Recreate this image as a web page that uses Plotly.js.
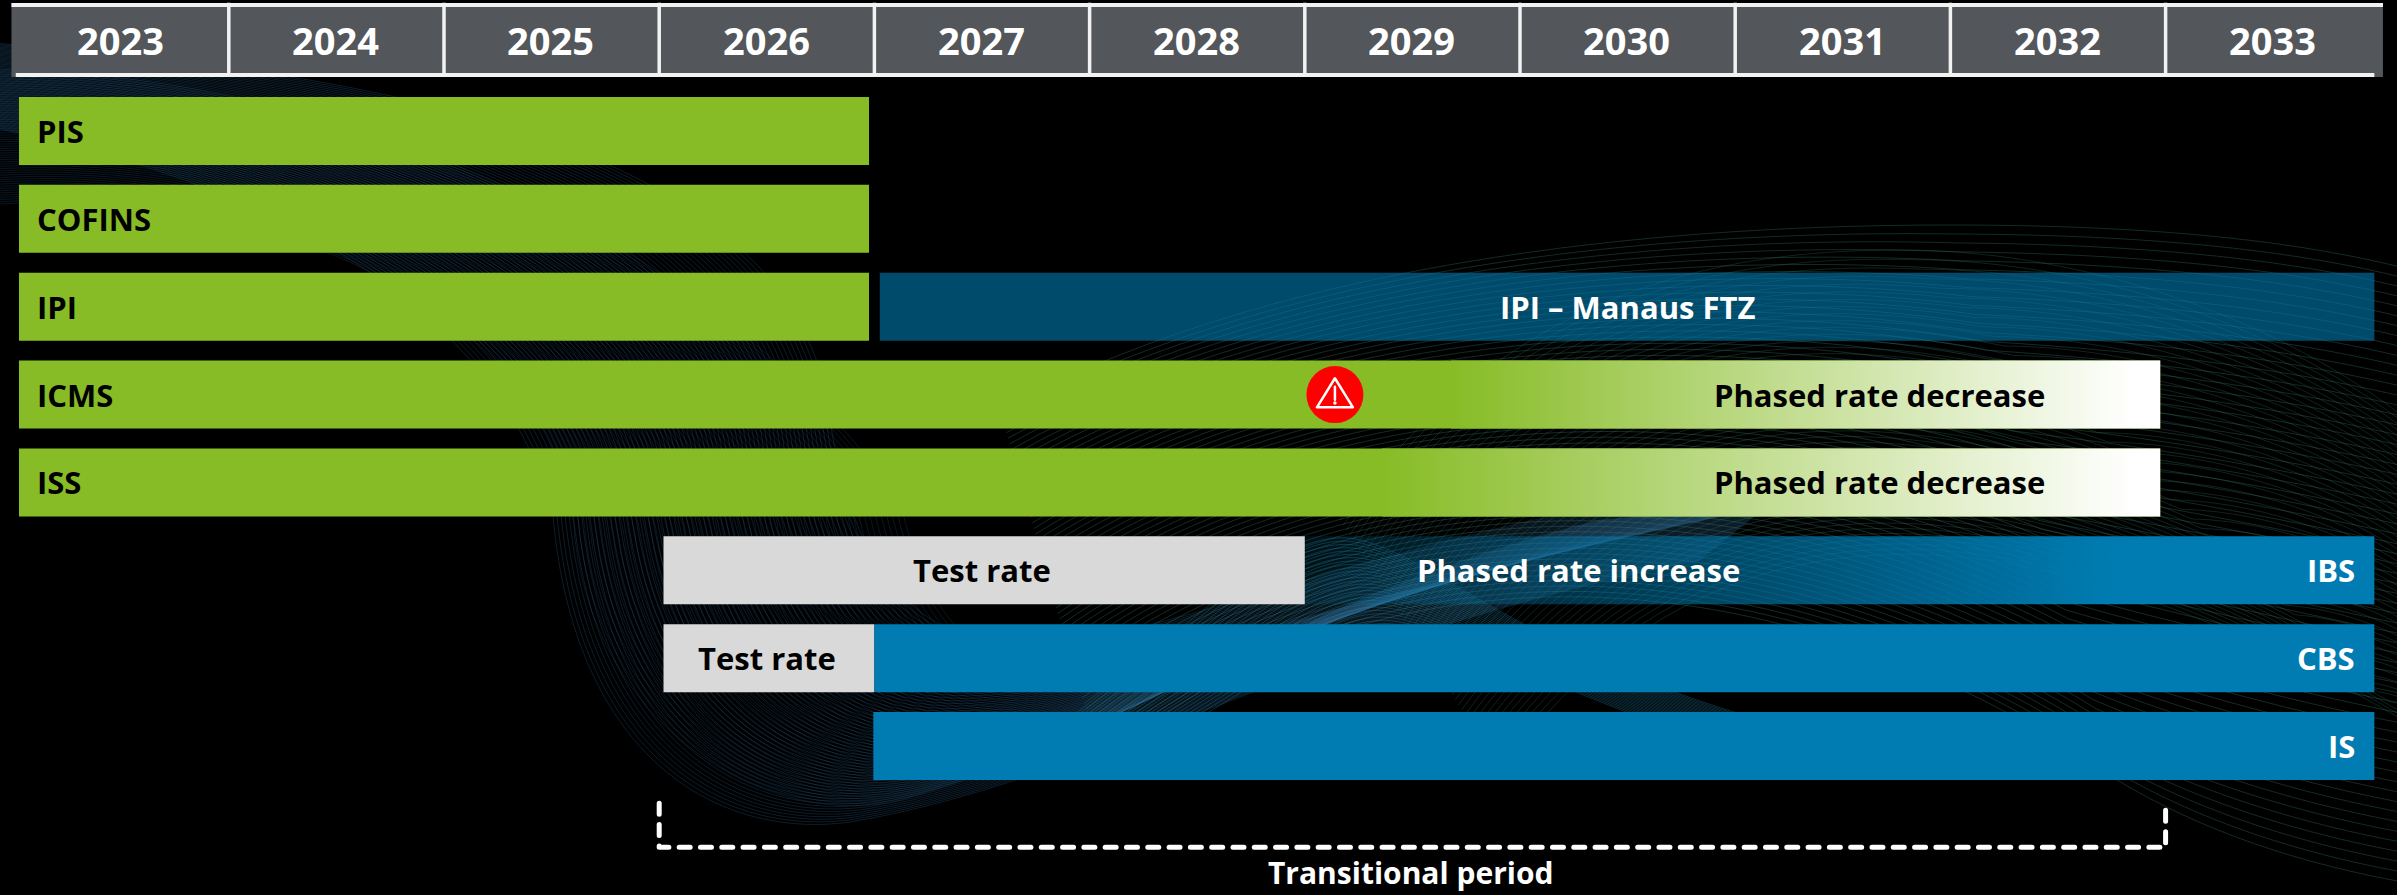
<!DOCTYPE html>
<html><head><meta charset="utf-8">
<script src="https://cdn.plot.ly/plotly-3.0.1.min.js"></script>
<style>html,body{margin:0;padding:0;background:#000;overflow:hidden}#chart{width:2397px;height:895px}</style>
</head><body><div id="chart"></div>
<script>
// ---------- data ----------
const years = [2023,2024,2025,2026,2027,2028,2029,2030,2031,2032,2033];
const rows = ['PIS','COFINS','IPI','ICMS','ISS','IBS','CBS','IS'];

const greenRows  = ['PIS','COFINS','IPI','ICMS','ISS'];
const greenStart = [2023.025,2023.025,2023.025,2023.025,2023.025];
const greenEnd   = [2026.975,2026.975,2026.975,2032.975,2032.975];

const fadeRows   = ['ICMS','ISS'];
const fadeStart  = [2029.68,2029.36];
const fadeEnd    = [2032.85,2032.85];

const testRows   = ['IBS','CBS'];
const testStart  = [2026.02,2026.02];
const testEnd    = [2029.00,2027.00];

const blueRows   = ['CBS','IS'];
const blueStart  = [2027.00,2026.995];
const blueEnd    = [2033.97,2033.97];

const manausStart = 2027.025, manausEnd = 2033.97;
const rampStart = 2029.00, rampSolid = 2032.75, rampEnd = 2033.97;
const alertYear = 2029.14;
const transitionStart = 2026, transitionEnd = 2033;

const leftLabels  = ['PIS','COFINS','IPI','ICMS','ISS'];
const rightLabels = ['IBS','CBS','IS'];
const midLabels   = [
  {t:'IPI – Manaus FTZ',     x:2030.50, r:'IPI',  c:'#fff'},
  {t:'Phased rate decrease', x:2031.67, r:'ICMS', c:'#000'},
  {t:'Phased rate decrease', x:2031.67, r:'ISS',  c:'#000'},
  {t:'Test rate',            x:2027.50, r:'IBS',  c:'#000'},
  {t:'Phased rate increase', x:2030.27, r:'IBS',  c:'#fff'},
  {t:'Test rate',            x:2026.50, r:'CBS',  c:'#000'}
];

// ---------- decorative background (wave lines, not data) ----------
function waveBackground(){
  const c=document.createElement('canvas');c.width=2397;c.height=895;
  const g=c.getContext('2d');g.fillStyle='#000';g.fillRect(0,0,2397,895);
  function family(a,b,n,color,w){
    g.strokeStyle=color;g.lineWidth=w||1;
    for(let i=0;i<=n;i++){
      const t=i/n;const p=a.map((v,k)=>v+(b[k]-v)*t);
      g.beginPath();g.moveTo(p[0],p[1]);
      for(let k=2;k+5<p.length;k+=6)g.bezierCurveTo(p[k],p[k+1],p[k+2],p[k+3],p[k+4],p[k+5]);
      g.stroke();
    }
  }
  // left bowl (blue)
  family([-50,120, 250,170,500,300,553,516, 575,760,720,840,850,822, 1100,780,1300,640,1700,560],
         [-50,40,  400,70,800,150,830,420, 860,620,960,660,1080,640, 1250,610,1500,500,1800,480],70,'rgba(45,105,150,.28)');
  family([-50,210, 200,170,560,280,575,540, 600,740,780,830,900,800, 1120,740,1280,600,1600,520],
         [-50,70,  300,60,700,220,900,500, 930,640,1000,700,1150,660, 1300,620,1500,560,1800,500],60,'rgba(40,95,140,.24)');
  // teal crest
  family([1040,740, 1180,640,1280,520,1360,540, 1440,560,1520,650,1760,720],
         [1100,760, 1240,720,1320,610,1400,625, 1480,640,1560,700,1800,770],26,'rgba(35,130,165,.34)');
  // right arcs (green)
  family([1000,410, 1300,250,1700,225,1950,225, 2150,225,2300,240,2420,272],
         [1100,760, 1400,520,1800,560,2117,780, 2200,830,2300,865,2420,885],62,'rgba(55,125,105,.34)');
  family([1340,520, 1500,300,1700,250,1900,250, 2100,250,2300,330,2420,430],
         [1500,770, 1700,500,2000,480,2420,730, 2430,735,2440,740,2450,745],50,'rgba(50,115,100,.30)');
  return c.toDataURL('image/png');
}

// ---------- helpers ----------
const rowY = r => rows.indexOf(r);
const H = 0.774;
function barTrace(ys,starts,ends,color,opacity){
  return {type:'bar',orientation:'h',y:ys.map(rowY),base:starts,x:ends.map((e,i)=>e-starts[i]),
    width:ys.map(()=>H),marker:{color:color,opacity:opacity===undefined?1:opacity,line:{width:0}},
    hoverinfo:'skip',showlegend:false};
}
function gradTrace(a,b,y,stops,gs,ge){
  const t=y-H/2,u=y+H/2;
  return {type:'scatter',mode:'none',x:[a,b,b,a,a],y:[t,t,u,u,t],fill:'toself',
    fillgradient:{type:'horizontal',start:gs===undefined?a:gs,stop:ge===undefined?b:ge,colorscale:stops},
    hoverinfo:'skip',showlegend:false};
}

// ---------- traces ----------
const headerY = -1.036, headerH = 0.842;
const traces = [];
traces.push({type:'bar',orientation:'h',y:years.map(()=>headerY),
  base:years.map((v,i)=>i===0?v-0.01:v),x:years.map((v,i)=>i===years.length-1?1.01:(i===0?1.01:1)),
  width:years.map(()=>headerH),marker:{color:'#53565A',line:{width:0}},hoverinfo:'skip',showlegend:false});
traces.push(barTrace(greenRows,greenStart,greenEnd,'#87BC26'));
traces.push(barTrace(['IPI'],[manausStart],[manausEnd],'#007CB2',0.6));
traces.push(barTrace(testRows,testStart,testEnd,'#D9D9D9'));
traces.push(barTrace(blueRows,blueStart,blueEnd,'#007CB2'));
fadeRows.forEach((r,i)=>traces.push(gradTrace(fadeStart[i],greenEnd[greenRows.indexOf(r)],rowY(r),
  [[0,'rgb(135,188,38)'],[1,'rgb(255,255,255)']],fadeStart[i],fadeEnd[i])));
traces.push(gradTrace(rampStart,rampEnd,rowY('IBS'),
  [[0,'rgba(0,124,178,0.12)'],[1,'rgba(0,124,178,1)']],rampStart,rampSolid));
// alert icon
const ay=rowY('ICMS');
const iconW=0.0836, iconTop=-0.186, iconBase=0.145;
traces.push({type:'scatter',mode:'markers',x:[alertYear],y:[ay],marker:{symbol:'circle',size:57,color:'#FF0000',line:{width:0}},hoverinfo:'skip',showlegend:false});
traces.push({type:'scatter',mode:'lines',x:[alertYear-iconW,alertYear,alertYear+iconW,alertYear-iconW],y:[ay+iconBase,ay+iconTop,ay+iconBase,ay+iconBase],line:{color:'#fff',width:2.5},hoverinfo:'skip',showlegend:false});
traces.push({type:'scatter',mode:'lines',x:[alertYear,alertYear],y:[ay-0.09,ay+0.06],line:{color:'#fff',width:2.5},hoverinfo:'skip',showlegend:false});
traces.push({type:'scatter',mode:'markers',x:[alertYear],y:[ay+0.095],marker:{symbol:'circle',size:3.5,color:'#fff',line:{width:0}},hoverinfo:'skip',showlegend:false});
// transitional bracket
traces.push({type:'scatter',mode:'lines',name:'bracket',
  x:[transitionStart,transitionStart,transitionEnd,transitionEnd],y:[7.652,8.152,8.152,7.652],
  line:{color:'#fff',width:5,dash:'11px,10.3px'},hoverinfo:'skip',showlegend:false});

// ---------- annotations ----------
const ann=[];
const txt=(text,x,y,size,color,anchor)=>ann.push({text:'<b>'+text+'</b>',x:x,y:y,xref:'x',yref:'y',xanchor:anchor||'center',yanchor:'middle',showarrow:false,font:{family:'"Open Sans",sans-serif',size:size,color:color}});
years.forEach(v=>txt(String(v),v+0.497,headerY,38,'#fff'));
leftLabels.forEach(l=>txt(l,2023.098,rowY(l),31,'#000','left'));
rightLabels.forEach(l=>txt(l,2033.89,rowY(l),31,'#fff','right'));
midLabels.forEach(m=>txt(m.t,m.x,rowY(m.r),31,m.c));
txt('Transitional period',2029.49,8.44,30,'#fff');

// ---------- header grid lines ----------
const shapes=[];
const wl=(x0,x1,y0,y1,w)=>shapes.push({type:'line',xref:'x',yref:'y',x0,x1,y0,y1,line:{color:'#F2F2F2',width:w},layer:'above'});
wl(2022.99,2034.01,-1.434,-1.434,4);
wl(2023.01,2033.97,-0.637,-0.637,4);
years.slice(1).forEach(v=>wl(v,v,-1.46,-0.62,3.5));

const layout={
  width:2397,height:895,margin:{l:0,r:0,t:0,b:0,pad:0},
  paper_bgcolor:'#000',plot_bgcolor:'rgba(0,0,0,0)',barmode:'overlay',showlegend:false,
  xaxis:{range:[2022.9368,2034.0753],visible:false,fixedrange:true},
  yaxis:{range:[8.696,-1.491],visible:false,fixedrange:true},
  annotations:ann,shapes:shapes,
  images:[{source:waveBackground(),xref:'paper',yref:'paper',x:0,y:1,sizex:1,sizey:1,sizing:'stretch',xanchor:'left',yanchor:'top',layer:'below'}]
};
Plotly.newPlot('chart',traces,layout,{displayModeBar:false,staticPlot:true}).then(()=>{
  document.querySelectorAll('.scatterlayer .js-line').forEach(p=>{p.style.strokeLinecap='round';p.style.strokeLinejoin='round';});
});
</script></body></html>
